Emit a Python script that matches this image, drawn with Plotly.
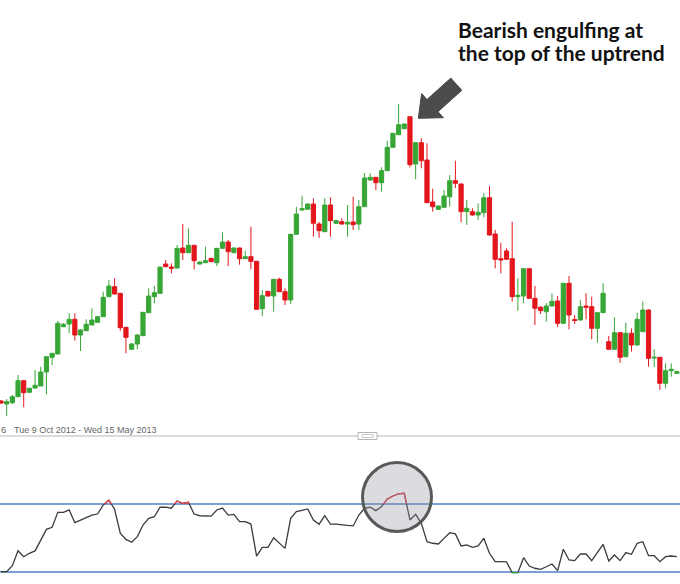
import plotly.graph_objects as go

# ---------------- data ----------------
open_ = [199, 196, 197.3, 203.3, 219.3, 207.7, 212, 214, 228, 242.7,
         246, 273.3, 276, 280.7, 265, 269.3, 275, 277.7, 283.3, 303.3,
         313.3, 306.7, 272.7, 250.7, 256, 264.3, 287.3, 303.3, 306.7, 336,
         333, 332, 352, 347.3, 354.7, 336, 337.3, 341.7, 337.3, 351.7,
         358, 347.3, 352, 341.3, 343.3, 338.7, 291.3, 308.7, 304, 320.7,
         308.3, 300, 365.7, 390, 390.7, 396, 376, 368.3, 395, 376.7,
         378.3, 376, 378, 376, 393.3, 420, 422.7, 417.3, 429.3, 452.7,
         465.3, 471.3, 483.3, 436, 457.3, 440, 398, 390.7, 392.7, 403.3,
         419.3, 416, 388.3, 388.3, 385, 387.3, 402.3, 366, 341.3, 349,
         341.3, 303.3, 304, 331.3, 301.7, 292.7, 288.3, 294, 299, 276.7,
         316.7, 280.5, 280, 294, 293.3, 271.7, 287.3, 258.3, 250.7, 267.3,
         243.3, 266.7, 255, 268.3, 290, 242, 242.7, 216.7, 229.3, 226.7]

close = [197, 198.3, 203.3, 219.3, 207.3, 211.7, 214.7, 228, 243.3, 246.7,
         276.7, 275.7, 280.7, 265, 270, 275.7, 280, 283.3, 302.7, 314,
         306, 272.3, 262.7, 256, 265, 287.7, 304, 307.3, 332.7, 333.3,
         331.7, 351.7, 347.3, 354.7, 339.3, 338, 339.3, 338.3, 351.7, 358,
         348.3, 352, 341.3, 343.3, 338.7, 290.7, 304.3, 304, 320.7, 308.3,
         300, 365.7, 386, 391.3, 396, 376.7, 369.3, 395, 379.3, 379.3,
         376, 377.7, 375.3, 393.3, 422, 422.7, 417.3, 429.3, 452.7, 466.7,
         475.3, 476, 435.3, 457.3, 439.3, 397.3, 393.3, 394, 404, 419.3,
         416.7, 388.3, 391.7, 385, 387.7, 402.3, 365, 340.7, 340, 340.7,
         303.3, 304.7, 331.3, 301.7, 291.7, 289.3, 294, 298.7, 276.7, 316.7,
         285, 279.5, 293.3, 292.7, 271.7, 287.3, 306.7, 250.7, 267.3, 242.7,
         266.7, 255, 280.7, 290, 241.7, 242.7, 216.7, 229.3, 230.7, 228.3]

high = [200, 201, 205, 225, 220, 212, 230, 233.3, 244, 247,
        279, 277, 286.7, 286.7, 271, 280.7, 291.7, 284, 308.3, 320,
        321.7, 307, 273, 257, 266, 288, 311.7, 314, 334, 340,
        336.7, 355, 376, 371.7, 355, 338.5, 353.3, 342, 352, 367.7,
        360, 352.5, 352.5, 349.3, 373.3, 339, 310, 309, 321, 322.3,
        311.7, 366, 393.3, 404.3, 396.5, 401.7, 378, 401.7, 402.7, 380,
        381.7, 395, 403.3, 400, 427, 426.7, 423, 432.7, 459.3, 467,
        496, 476.5, 483.5, 457.5, 461.7, 456.7, 411.3, 394.5, 410, 425,
        439.3, 416.5, 400, 391.7, 396.7, 406.7, 414, 370, 357.3, 351.7,
        378.3, 321.7, 331.5, 331.5, 314, 294, 297, 306.7, 304, 317,
        324, 285, 300, 306.7, 303.3, 287.5, 316.7, 264, 282.7, 267.5,
        277.3, 271.7, 287.3, 298.3, 290.5, 250.7, 243, 236.7, 236.7, 229]

low = [196, 184, 196, 203, 192.7, 207, 211.5, 214, 205.7, 235,
       246, 273, 266.7, 259.3, 249, 269, 275, 277, 283, 303,
       305.5, 269.3, 246.7, 250, 250.7, 264, 287, 296.7, 306, 333,
       326.7, 331.5, 340, 347, 330.7, 335.5, 337, 338, 334, 351,
       334, 347, 335.3, 341, 330.7, 290.5, 284, 303.5, 288.3, 308,
       295, 296, 365.5, 389.5, 390.5, 363.3, 362, 368, 363.3, 376,
       375.5, 363.3, 370, 370, 393, 419.5, 410, 408.3, 429, 452.5,
       465, 471, 432.7, 420.7, 431.7, 397, 388.3, 390, 392.5, 393.3,
       412, 377.7, 375, 384.5, 380, 382.7, 364.5, 331.7, 326.7, 340.5,
       298.3, 289.3, 296.7, 301.5, 275, 286, 278.3, 293.5, 273, 276.5,
       270.7, 276, 279.5, 280.7, 260.7, 257.3, 287, 250.5, 250.5, 237.3,
       243, 248.3, 254.5, 268, 233.3, 232.7, 210, 211.7, 223.3, 226]

rsi = [30.2, 30.2, 33.7, 42.5, 39.0, 41.0, 42.4, 48.4, 55.1, 56.3,
       65.1, 65.1, 66.5, 59.0, 60.6, 62.2, 63.5, 64.1, 69.4, 72.2,
       66.9, 52.8, 49.2, 47.5, 50.8, 57.6, 61.6, 62.5, 68.1, 68.1,
       67.5, 71.8, 70.3, 71.0, 64.1, 63.1, 63.1, 62.9, 66.5, 67.6,
       63.5, 63.9, 59.6, 59.6, 58.2, 39.4, 44.5, 44.5, 50.2, 46.9,
       43.9, 61.6, 65.5, 66.3, 67.1, 60.6, 58.1, 63.1, 58.2, 58.2,
       57.6, 57.4, 57.1, 63.5, 67.5, 68.1, 66.1, 68.5, 72.9, 74.7,
       75.9, 76.3, 60.6, 63.9, 58.6, 47.8, 46.9, 46.5, 49.8, 53.1,
       52.4, 45.3, 45.9, 44.5, 45.3, 49.8, 41.0, 36.1, 36.1, 35.9,
       29.6, 29.6, 38.4, 33.5, 32.2, 31.6, 33.1, 34.7, 30.8, 43.4,
       37.1, 36.7, 40.6, 40.6, 36.7, 41.9, 46.3, 36.5, 40.0, 36.7,
       41.4, 40.4, 46.9, 47.8, 39.6, 39.6, 36.1, 39.0, 39.4, 39.0]

rsi_levels = [70, 30]
idx = list(range(len(open_)))

title_lines = ["Bearish engulfing at", "the top of the uptrend"]
range_label = "Tue 9 Oct 2012 - Wed 15 May 2013"

# ---------------- layout helpers ----------------
W, H = 680, 584
GREEN = "#38a636"
RED = "#e3161c"
BLUE = "#4f80c4"


def px(x):
    return x / W


def py(y):
    return 1 - y / H


SEP_Y = 436          # pixel row of panel separator
Y70, Y30 = 504, 572  # pixel rows of RSI 70 / 30 lines
STEP = 5.68          # pixels per candle
X_FIRST = 1.0        # pixel of first candle
x_range = [(0 - X_FIRST) / STEP, (W - X_FIRST) / STEP]

per = (Y30 - Y70) / 40.0       # pixels per RSI unit
rsi_bottom = 30 - (H - Y30) / per
rsi_top = 70 + (Y70 - SEP_Y) / per

fig = go.Figure()

fig.add_trace(go.Candlestick(
    x=idx, open=open_, high=high, low=low, close=close,
    increasing=dict(line=dict(color=GREEN, width=1), fillcolor=GREEN),
    decreasing=dict(line=dict(color=RED, width=1), fillcolor=RED),
    whiskerwidth=0, showlegend=False, hoverinfo="skip",
    xaxis="x", yaxis="y"))

fig.add_trace(go.Scatter(x=idx, y=rsi, mode="lines",
                         line=dict(color="#3b3b3b", width=1.3),
                         showlegend=False, hoverinfo="skip",
                         xaxis="x2", yaxis="y2"))
fig.add_trace(go.Scatter(x=idx, y=rsi, mode="lines",
                         line=dict(color="#e8404a", width=1.3),
                         showlegend=False, hoverinfo="skip",
                         xaxis="x2", yaxis="y3"))
fig.add_trace(go.Scatter(x=idx, y=rsi, mode="lines",
                         line=dict(color=GREEN, width=1.3),
                         showlegend=False, hoverinfo="skip",
                         xaxis="x2", yaxis="y4"))

shapes = []
for lvl in rsi_levels:
    shapes.append(dict(type="line", xref="paper", yref="y2", x0=0, x1=1,
                       y0=lvl, y1=lvl, line=dict(color=BLUE, width=1.4),
                       layer="below"))
shapes.append(dict(type="line", xref="paper", yref="paper", x0=0, x1=1,
                   y0=py(SEP_Y), y1=py(SEP_Y),
                   line=dict(color="#cfcfcf", width=1.5)))
shapes.append(dict(type="rect", xref="paper", yref="paper",
                   x0=px(358), x1=px(377), y0=py(439.5), y1=py(432.5),
                   fillcolor="white", line=dict(color="#b5b5b5", width=1)))
shapes.append(dict(type="rect", xref="paper", yref="paper",
                   x0=px(362), x1=px(373), y0=py(437.5), y1=py(434.5),
                   fillcolor="white", line=dict(color="#c8c8c8", width=1)))
# highlight circle
shapes.append(dict(type="circle", xref="paper", yref="paper",
                   x0=px(362.5), x1=px(431.5), y0=py(531.5), y1=py(462.5),
                   fillcolor="rgba(150,150,160,0.33)",
                   line=dict(color="#595959", width=3), layer="above"))

# arrow polygon (pixel coordinates)
arrow_pts = [(418.3, 118.3), (443.4, 117.7), (438.0, 111.7), (461.8, 90.3),
             (450.8, 78.1), (427.0, 99.5), (421.6, 93.5)]
path = "M " + " L ".join(f"{px(x):.5f},{py(y):.5f}" for x, y in arrow_pts) + " Z"
shapes.append(dict(type="path", xref="paper", yref="paper", path=path,
                   fillcolor="#4b4b4b", line=dict(color="#4b4b4b", width=1)))

TITLE_FONT = dict(family="Lato", size=21, color="#111111")
annotations = [
    dict(text="<b>" + title_lines[0] + "</b>", xref="paper", yref="paper",
         x=px(456), y=py(30), xanchor="left", yanchor="middle",
         showarrow=False, font=TITLE_FONT),
    dict(text="<b>" + title_lines[1] + "</b>", xref="paper", yref="paper",
         x=px(456), y=py(53), xanchor="left", yanchor="middle",
         showarrow=False, font=TITLE_FONT),
    dict(text="6", xref="paper", yref="paper", x=px(-1), y=py(430),
         xanchor="left", yanchor="middle", showarrow=False,
         font=dict(family="Liberation Sans", size=9.5, color="#666666")),
    dict(text=range_label, xref="paper", yref="paper", x=px(12), y=py(430),
         xanchor="left", yanchor="middle", showarrow=False,
         font=dict(family="Liberation Sans", size=9, color="#666666")),
]

fig.update_layout(
    width=W, height=H, margin=dict(l=0, r=0, t=0, b=0),
    paper_bgcolor="white", plot_bgcolor="rgba(0,0,0,0)",
    showlegend=False, shapes=shapes, annotations=annotations,
    boxgap=0.1, boxgroupgap=0.18,
    xaxis=dict(domain=[0, 1], range=x_range, visible=False,
               rangeslider=dict(visible=False), fixedrange=True),
    yaxis=dict(domain=[py(SEP_Y), 1], range=[600 - SEP_Y, 600], visible=False,
               fixedrange=True),
    xaxis2=dict(domain=[0, 1], range=x_range, visible=False, anchor="y2",
                fixedrange=True),
    yaxis2=dict(domain=[0, py(SEP_Y)], range=[rsi_bottom, rsi_top], visible=False,
                anchor="x2", fixedrange=True),
    yaxis3=dict(domain=[py(Y70), py(SEP_Y)], range=[70, rsi_top], visible=False,
                anchor="x2", fixedrange=True),
    yaxis4=dict(domain=[0, py(Y30)], range=[rsi_bottom, 30], visible=False,
                anchor="x2", fixedrange=True),
)

fig.write_html("out.html", config={"displayModeBar": False},
               post_script="document.body.style.margin='0px';")
